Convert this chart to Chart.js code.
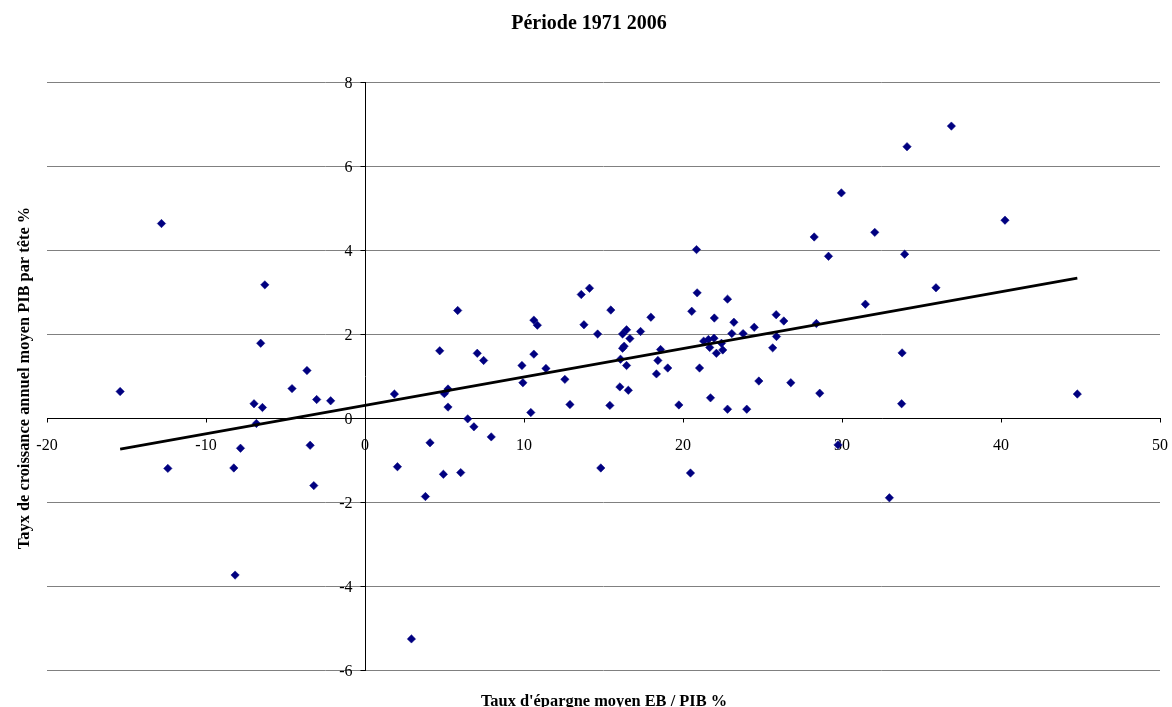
<!DOCTYPE html>
<html>
<head>
<meta charset="utf-8">
<script src="https://cdn.jsdelivr.net/npm/chart.js@4.4.1/dist/chart.umd.min.js"></script>
<style>
  html, body { margin: 0; padding: 0; background: #fff; }
  #wrap { width: 1172px; height: 707px; position: relative; }
</style>
</head>
<body>
<div id="wrap"><canvas id="epargneChart"></canvas></div>
<script>
// Taux d'épargne moyen (EB / PIB, %) par pays
const saving = [
  -15.4, -12.8, -12.4, -8.25, -8.17, -7.83, -6.98, -6.83, -6.56, -6.45, -6.3,
  -4.59, -3.65, -3.45, -3.22, -3.04, -2.16,
  1.85, 2.04, 2.92, 3.8, 4.09, 4.7, 4.93, 4.99, 5.22, 5.22, 5.83, 6.02, 6.46,
  6.85, 7.06, 7.46, 7.94, 9.87, 9.93, 10.43, 10.62, 10.62, 10.84, 11.38,
  12.57, 12.89, 13.6, 13.77, 14.12, 14.63, 14.83, 15.4, 15.46, 16.03, 16.07,
  16.2, 16.3, 16.2, 16.45, 16.45, 16.56, 16.66, 17.33, 17.98, 18.33, 18.42,
  18.59, 19.04, 19.74, 20.47, 20.55, 20.85, 20.89, 21.04, 21.3, 21.6, 21.68,
  21.73, 21.95, 21.97, 22.1, 22.42, 22.5, 22.8, 22.8, 23.07, 23.2, 23.78,
  24.01, 24.48, 24.77, 25.64, 25.86, 25.88, 26.34, 26.78, 28.25, 28.39, 28.6,
  29.15, 29.75, 29.96, 31.47, 32.06, 32.98, 33.75, 33.78, 33.94, 34.09, 35.91,
  36.88, 40.25, 44.8
];
// Taux de croissance annuel moyen du PIB par tête (%)
const growth = [
  0.63, 4.63, -1.2, -1.19, -3.74, -0.72, 0.34, -0.13, 1.78, 0.25, 3.17,
  0.7, 1.13, -0.65, -1.61, 0.44, 0.41,
  0.57, -1.16, -5.26, -1.87, -0.59, 1.6, -1.34, 0.58, 0.69, 0.26, 2.56, -1.3, -0.02,
  -0.21, 1.54, 1.37, -0.45, 1.25, 0.84, 0.13, 2.33, 1.52, 2.21, 1.18,
  0.92, 0.32, 2.94, 2.22, 3.09, 2.0, -1.19, 0.3, 2.57, 0.74, 1.4,
  2.0, 1.71, 1.66, 2.1, 1.25, 0.66, 1.89, 2.06, 2.4, 1.05, 1.37,
  1.63, 1.19, 0.31, -1.31, 2.54, 4.01, 2.98, 1.19, 1.83, 1.87, 1.68,
  0.48, 1.9, 2.38, 1.54, 1.78, 1.62, 2.83, 0.21, 2.01, 2.28, 2.01,
  0.21, 2.16, 0.88, 1.67, 2.46, 1.94, 2.31, 0.84, 4.31, 2.25, 0.59,
  3.85, -0.64, 5.36, 2.71, 4.42, -1.9, 0.34, 1.55, 3.9, 6.46, 3.1,
  6.95, 4.71, 0.57
];
// Droite de tendance (extrémités)
const trendX = [-15.4, 44.8];
const trendY = [-0.74, 3.33];

const xTicks = { min: -20, max: 50, step: 10 };
const yTicks = { min: -6, max: 8, step: 2 };

const chartTitle = 'Période 1971 2006';
const xTitle = "Taux d'épargne moyen EB / PIB %";
const yTitle = 'Tayx de croissance annuel moyen PIB par tête %';

const serif = '"Liberation Serif", "Times New Roman", serif';

// titres + petites graduations + libellés de l'axe vertical (axes croisés en 0)
const axisDetails = {
  id: 'axisDetails',
  afterDraw(chart) {
    const ctx = chart.ctx;
    const xs = chart.scales.x;
    const ys = chart.scales.y;
    const x0 = Math.round(xs.getPixelForValue(0)) + 0.5;
    const y0 = Math.round(ys.getPixelForValue(0)) + 0.5;
    ctx.save();

    // graduations
    ctx.strokeStyle = '#000';
    ctx.lineWidth = 1;
    ctx.beginPath();
    for (let v = xTicks.min; v <= xTicks.max; v += xTicks.step) {
      const px = Math.round(xs.getPixelForValue(v)) + 0.5;
      ctx.moveTo(px, y0);
      ctx.lineTo(px, y0 + 4);
    }
    for (let v = yTicks.min; v <= yTicks.max; v += yTicks.step) {
      const py = Math.round(ys.getPixelForValue(v)) + 0.5;
      ctx.moveTo(x0, py);
      ctx.lineTo(x0 - 5, py);
    }
    ctx.stroke();

    // libellés Y
    ctx.fillStyle = '#000';
    ctx.font = '16px ' + serif;
    ctx.textAlign = 'right';
    ctx.textBaseline = 'middle';
    for (let v = yTicks.min; v <= yTicks.max; v += yTicks.step) {
      ctx.fillText(String(v), x0 - 13, ys.getPixelForValue(v) + 1.5);
    }

    // titres
    ctx.textAlign = 'center';
    ctx.textBaseline = 'alphabetic';
    ctx.font = 'bold 20px ' + serif;
    ctx.fillText(chartTitle, 589, 29);
    ctx.font = 'bold 16.4px ' + serif;
    ctx.fillText(xTitle, 604, 706);
    ctx.translate(29, 378);
    ctx.rotate(-Math.PI / 2);
    ctx.fillText(yTitle, 0, 0);
    ctx.restore();
  }
};

const points = saving.map((x, i) => ({ x: x, y: growth[i] }));
const trend = trendX.map((x, i) => ({ x: x, y: trendY[i] }));

const ctx = document.getElementById('epargneChart');
new Chart(ctx, {
  type: 'scatter',
  data: {
    datasets: [
      {
        label: 'Pays',
        data: points,
        pointStyle: 'rectRot',
        pointRadius: 4.2,
        pointBorderWidth: 0.5,
        backgroundColor: '#000080',
        borderColor: '#000080',
        order: 2
      },
      {
        label: 'Tendance',
        type: 'line',
        data: trend,
        borderColor: '#000',
        borderWidth: 2.75,
        pointRadius: 0,
        fill: false,
        order: 1
      }
    ]
  },
  options: {
    responsive: true,
    maintainAspectRatio: false,
    animation: false,
    layout: { padding: { left: 47, right: 12, top: 82, bottom: 37 } },
    plugins: {
      legend: { display: false },
      tooltip: { enabled: false }
    },
    scales: {
      x: {
        type: 'linear',
        position: { y: 0 },
        min: xTicks.min,
        max: xTicks.max,
        ticks: {
          stepSize: xTicks.step,
          color: '#000',
          font: { family: serif, size: 16 },
          maxRotation: 0
        },
        grid: {
          drawOnChartArea: false,
          drawTicks: true,
          tickLength: 15,
          tickColor: 'rgba(0,0,0,0)'
        },
        border: { color: '#000', width: 1 }
      },
      y: {
        type: 'linear',
        position: { x: 0 },
        min: yTicks.min,
        max: yTicks.max,
        ticks: {
          stepSize: yTicks.step,
          display: false
        },
        grid: {
          drawOnChartArea: true,
          drawTicks: false,
          color: '#808080'
        },
        border: { color: '#000', width: 1 }
      }
    }
  },
  plugins: [axisDetails]
});
</script>
</body>
</html>
